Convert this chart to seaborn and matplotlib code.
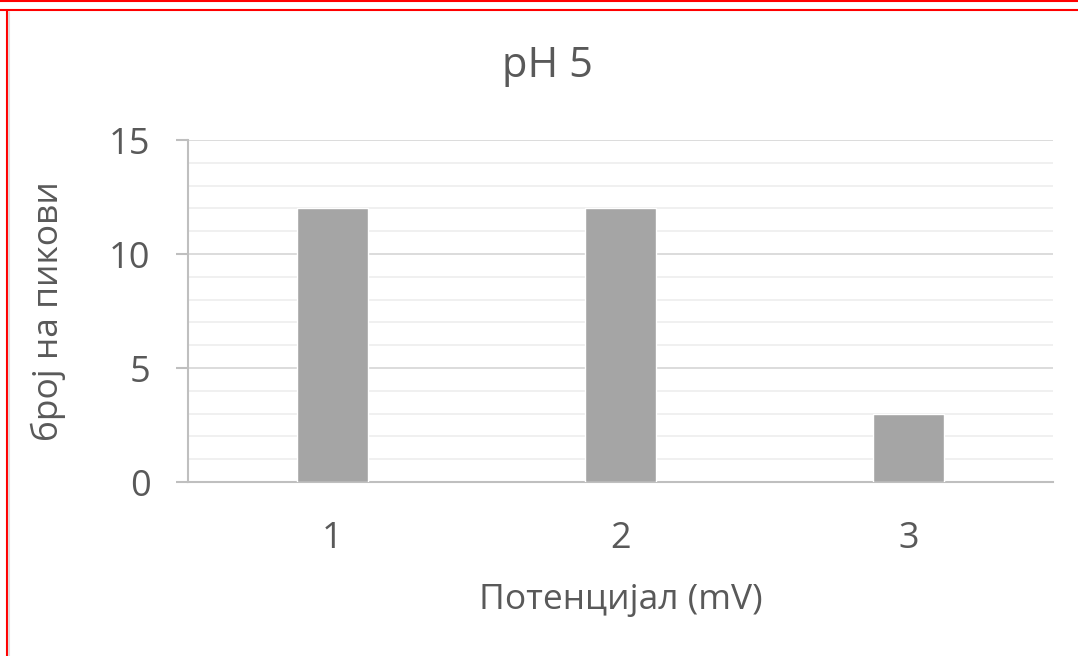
import matplotlib
matplotlib.use("Agg")
import matplotlib.pyplot as plt
from matplotlib.lines import Line2D
from matplotlib.ticker import MultipleLocator
import seaborn as sns
import pandas as pd

categories = ["1", "2", "3"]
values = [12, 12, 3]
title = "pH 5"
xlabel = "Потенцијал (mV)"
ylabel = "број на пикови"

sns.set_theme(style="white")
plt.rcParams['font.family'] = ['Open Sans', 'DejaVu Sans']

df = pd.DataFrame({"cat": categories, "val": values})

fig = plt.figure(figsize=(10.78, 6.56), dpi=100)
ax = fig.add_axes([188/1078, 1-482/656, (1053-188)/1078, (482-140)/656])

sns.barplot(data=df, x="cat", y="val", color="#A5A5A5", saturation=1,
            width=0.246, ax=ax, zorder=3)

ax.set_ylim(0, 15)
ax.set_xlim(-0.5, 2.5)
ax.yaxis.set_major_locator(MultipleLocator(5))
ax.yaxis.set_minor_locator(MultipleLocator(1))
ax.grid(which="major", axis="y", color="#D9D9D9", linewidth=1.3, zorder=0)
ax.grid(which="minor", axis="y", color="#F0F0F0", linewidth=1.4, zorder=0)
ax.set_axisbelow(True)

for s in ["top", "right"]:
    ax.spines[s].set_visible(False)
for s in ["left", "bottom"]:
    ax.spines[s].set_color("#BFBFBF")
    ax.spines[s].set_linewidth(1.5)

text_color = "#595959"
ax.tick_params(axis="y", which="major", length=9, width=1.5, color="#BFBFBF",
               labelsize=26, labelcolor=text_color, pad=18, left=True)
ax.tick_params(axis="y", which="minor", length=0)
ax.tick_params(axis="x", length=0, labelsize=26, labelcolor=text_color, pad=28)

ax.set_xlabel(xlabel, fontsize=25.5, color=text_color, labelpad=19)
ax.set_ylabel(ylabel, fontsize=25.5, color=text_color, labelpad=31)
fig.text(547/1078, 1-66/656, title, ha="center", va="center", fontsize=30, color=text_color)

# red frame decoration
fig.add_artist(Line2D([0, 1], [1-1/656, 1-1/656], color="red", linewidth=1.5, transform=fig.transFigure))
fig.add_artist(Line2D([0, 1], [1-10/656, 1-10/656], color="red", linewidth=1.5, transform=fig.transFigure))
fig.add_artist(Line2D([7/1078, 7/1078], [0, 1-10/656], color="red", linewidth=1.5, transform=fig.transFigure))
fig.add_artist(Line2D([9/1078, 9/1078], [0, 1-12/656], color="#DDDDDD", linewidth=1.5, transform=fig.transFigure))

fig.savefig("out.png", dpi=100)
